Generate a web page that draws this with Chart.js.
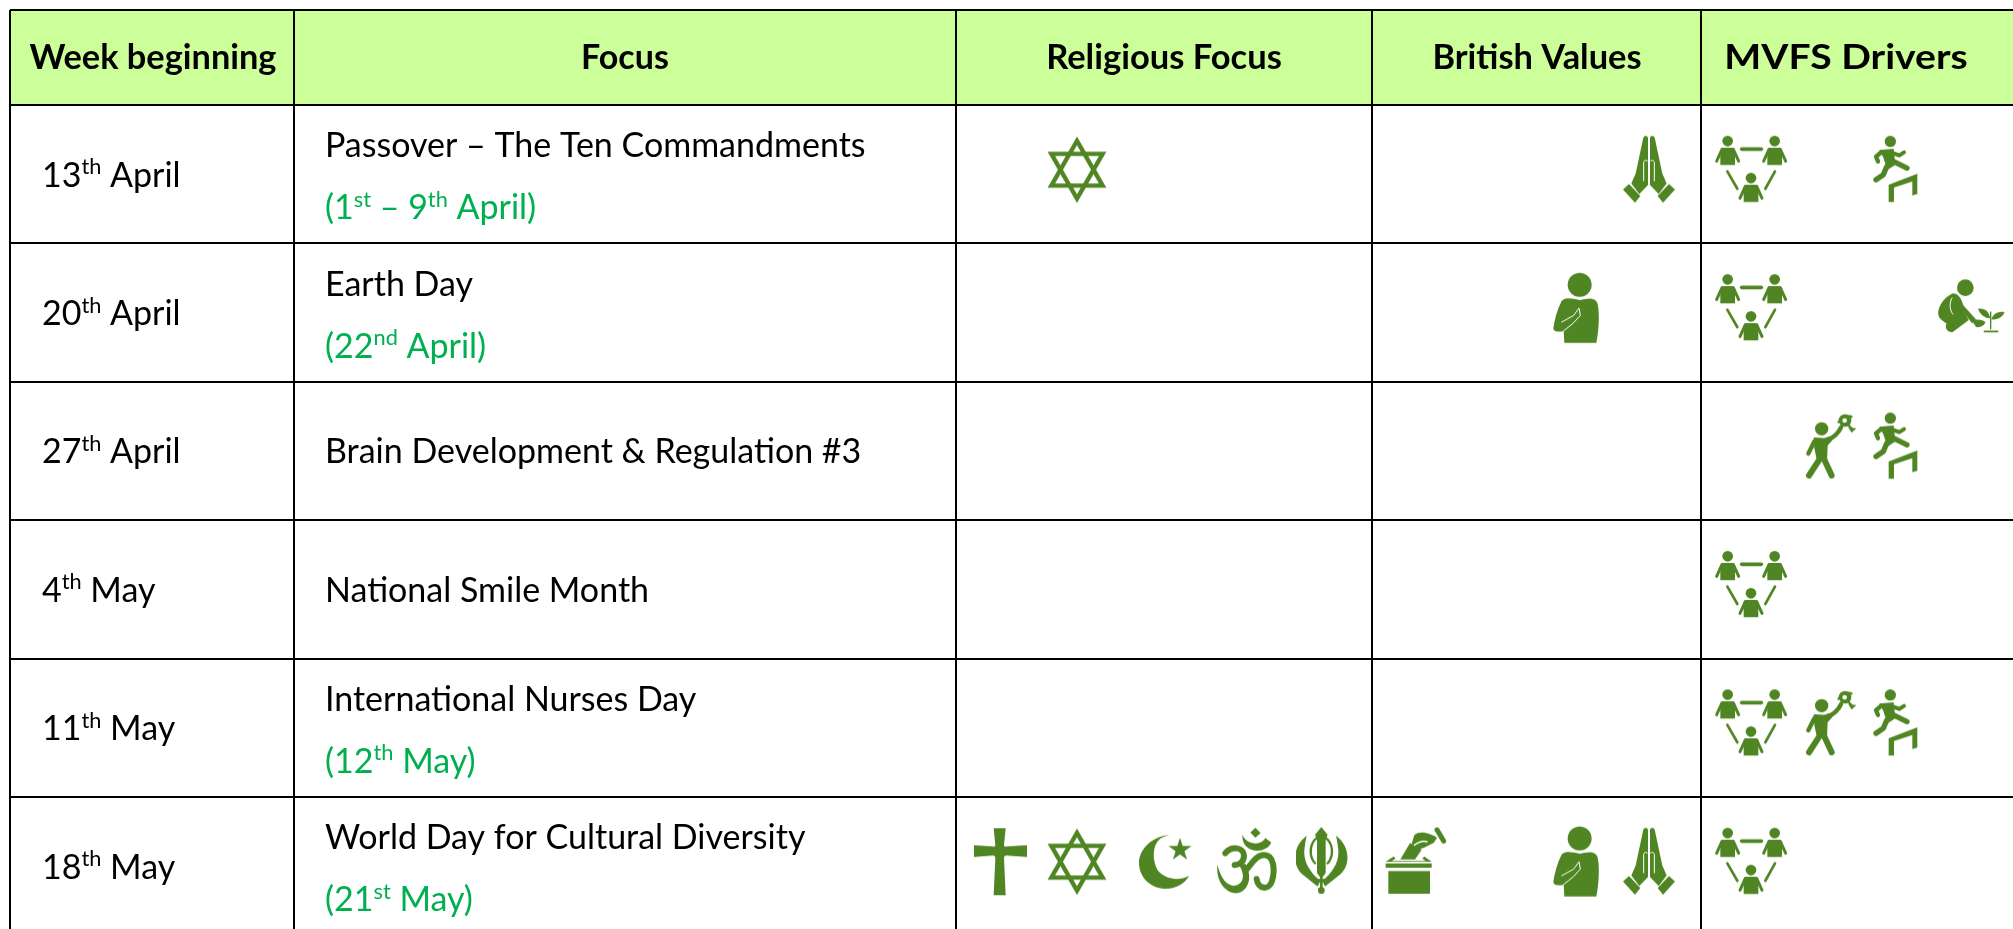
<!DOCTYPE html>
<html>
<head>
<meta charset="utf-8">
<title>Weekly focus</title>
<script src="https://cdn.jsdelivr.net/npm/chart.js@4"></script>
<style>
    html, body { margin: 0; padding: 0; background: #fff; overflow: hidden; }
    canvas { display: block; }
</style>
</head>
<body>
<canvas id="table-chart" width="2013" height="929"></canvas>
<script>
// ^x^ marks a superscript run
var headers = ["Week beginning", "Focus", "Religious Focus", "British Values", "MVFS Drivers"];
var weeks = ["13^th^ April", "20^th^ April", "27^th^ April", "4^th^ May", "11^th^ May", "18^th^ May"];
var focusNames = [
    "Passover – The Ten Commandments",
    "Earth Day",
    "Brain Development & Regulation #3",
    "National Smile Month",
    "International Nurses Day",
    "World Day for Cultural Diversity"
];
var focusDates = ["(1^st^ – 9^th^ April)", "(22^nd^ April)", "", "", "(12^th^ May)", "(21^st^ May)"];
var religiousFocus = [["star"], [], [], [], [], ["cross", "star", "crescent", "om", "khanda"]];
var britishValues = [["hands"], ["pledge"], [], [], [], ["ballot", "pledge", "hands"]];
var mvfsDrivers = [["group", "hurdle"], ["group", "plant"], ["trophy", "hurdle"], ["group"], ["group", "trophy", "hurdle"], ["group"]];

// layout, in table units (px from the table's left edge / row numbers)
var columnEdges = [0, 284, 946, 1362, 1691];
var rowEdges = [-1.1864, -0.5, 0.5, 1.5, 2.5, 3.5, 4.5];
var headerCentres = [143, 615, 1154, 1527, 1836];
var headerStretch = [1.01, 1, 1.015, 1.012, 1.15];
var weekX = 32;
var focusX = 315;
var symbolX = { cross: 991, star: 1067, crescent: 1156, om: 1238, khanda: 1313, ballot: 1407, pledge: 1567, hands: 1640, group: 1742, trophy: 1822, hurdle: 1886, plant: 1962 };
var symbolLift = -0.0325;

var GREEN = "#4f8522";
var TEXT_GREEN = "#00b050";
var HEADER_FILL = "#ccff99";
var FONT = "Lato";
var FONT_SIZE = 34;

// icons are traced at 3x, w and h are the final size
function makeIcon(w, h, draw) {
    var c = document.createElement("canvas");
    c.width = w;
    c.height = h;
    var ctx = c.getContext("2d");
    ctx.scale(1 / 3, 1 / 3);
    ctx.fillStyle = GREEN;
    ctx.strokeStyle = GREEN;
    ctx.lineCap = "round";
    ctx.lineJoin = "round";
    draw(ctx);
    return c;
}
function poly(ctx, d) { ctx.fill(new Path2D(d)); }
function line(ctx, d, lw) { ctx.lineWidth = lw; ctx.stroke(new Path2D(d)); }
function dot(ctx, x, y, r) { ctx.beginPath(); ctx.arc(x, y, r, 0, Math.PI * 2); ctx.fill(); }

function person(ctx, cx, cy) {
    dot(ctx, cx, cy, 16);
    poly(ctx, "M" + (cx - 15) + " " + (cy + 20) + "h30l7 7v45h-44v-45z");
    line(ctx, "M" + (cx - 17) + " " + (cy + 25) + "L" + (cx - 33) + " " + (cy + 60), 9);
    line(ctx, "M" + (cx + 17) + " " + (cy + 25) + "L" + (cx + 33) + " " + (cy + 60), 9);
}

var icons = {
    star: makeIcon(62, 69, function (ctx) {
        ctx.translate(3, 3);
        ctx.lineJoin = "miter";
        ctx.miterLimit = 10;
        line(ctx, "M90 14L167 148H13Z", 13);
        line(ctx, "M90 187L167 53H13Z", 13);
    }),
    cross: makeIcon(56, 69, function (ctx) {
        ctx.translate(3, 3);
        poly(ctx, "M59 0H95L90 50 Q90 56 96 55 L159 51V86L96 82Q90 82 90 90L95 201H59L64 90Q64 82 58 82L0 86V51L58 55Q64 56 64 50Z");
    }),
    crescent: makeIcon(56, 56, function (ctx) {
        ctx.translate(3, 3);
        poly(ctx, "M93 0C33 6 0 48 0 84C0 132 39 162 81 162C111 162 141 144 150 123C117 141 78 132 57 108C39 78 39 33 63 12C72 6 81 3 93 0Z");
        ctx.beginPath();
        for (var i = 0; i < 10; i++) {
            var r = i % 2 ? 14 : 36;
            var a = -Math.PI / 2 + i * Math.PI / 5;
            ctx.lineTo(123 + r * Math.cos(a), 45 + r * Math.sin(a));
        }
        ctx.closePath();
        ctx.fill();
    }),
    om: makeIcon(64, 70, function (ctx) {
        ctx.translate(-24, -21);
        poly(ctx, "M142 24L158 40L142 54L127 38Z");
        poly(ctx, "M103 45C115 75 160 80 172 55L190 68C175 104 100 104 103 45Z");
        line(ctx, "M52 100C72 76 108 84 108 108C108 130 88 136 80 136", 18);
        poly(ctx, "M28 135C23 190 58 224 90 220C122 212 135 170 112 132L92 136C112 160 110 198 74 198C50 194 36 165 28 135Z");
        line(ctx, "M112 152C128 140 140 106 168 106C198 106 202 150 192 184C182 214 150 208 146 178", 18);
    }),
    khanda: makeIcon(54, 70, function (ctx) {
        ctx.translate(-261, -21);
        poly(ctx, "M337 22L356 45L350 60V160L337 178L324 160V60L318 45Z");
        ctx.lineWidth = 7;
        ctx.beginPath();
        ctx.ellipse(337, 95, 32, 44, 0, Math.PI * 0.7, Math.PI * 0.3);
        ctx.stroke();
        poly(ctx, "M293 48C250 80 250 135 278 162C298 178 312 190 326 200L334 184C305 160 283 128 286 92C288 74 290 60 293 48Z");
        poly(ctx, "M381 48C424 80 424 135 396 162C376 178 362 190 348 200L340 184C369 160 391 128 388 92C386 74 384 60 381 48Z");
        line(ctx, "M306 178C322 184 352 184 368 178", 9);
        line(ctx, "M337 165V205", 8);
        dot(ctx, 337, 212, 10);
    }),
    pledge: makeIcon(50, 72, function (ctx) {
        ctx.translate(-33, -26);
        dot(ctx, 116, 64, 36);
        poly(ctx, "M62 112C48 140 40 170 37 195C38 206 50 206 68 203L70 238H166C174 200 176 150 170 122C165 100 140 104 116 110C95 106 76 100 62 112Z");
        ctx.strokeStyle = "#fff";
        line(ctx, "M62 176L98 156L114 134L118 156L96 180L68 202", 3);
    }),
    hands: makeIcon(56, 70, function (ctx) {
        ctx.translate(-251, -34);
        var half = function () {
            poly(ctx, "M315 42Q322 32 329 42V185L303 212L279 180L292 150Z");
            poly(ctx, "M254 198L272 182L306 218L290 238Z");
            ctx.save();
            ctx.strokeStyle = "#fff";
            line(ctx, "M316 172V116Q320 106 327 112", 3);
            ctx.restore();
        };
        half();
        ctx.translate(664, 0);
        ctx.scale(-1, 1);
        half();
    }),
    ballot: makeIcon(64, 70, function (ctx) {
        ctx.translate(-20, -17);
        ctx.fillRect(30, 150, 125, 68);
        ctx.fillRect(22, 127, 138, 13);
        poly(ctx, "M22 122L46 106L52 112L40 120H142L132 112L138 106L160 122Z");
        poly(ctx, "M66 115L95 66L130 86L110 115Z");
        poly(ctx, "M108 42C125 26 160 38 176 50L166 66C150 72 130 88 112 84L100 68Z");
        ctx.save();
        ctx.strokeStyle = "#fff";
        line(ctx, "M108 72C122 62 134 58 146 62", 4);
        ctx.restore();
        line(ctx, "M176 26L196 60", 15);
    }),
    group: makeIcon(76, 70, function (ctx) {
        ctx.translate(-105, -73);
        person(ctx, 146, 92);
        person(ctx, 287, 92);
        person(ctx, 216, 203);
        line(ctx, "M188 116H247", 11);
        line(ctx, "M145 183L175 235", 8);
        line(ctx, "M288 183L259 235", 8);
    }),
    hurdle: makeIcon(48, 70, function (ctx) {
        ctx.translate(-220, -20);
        dot(ctx, 275, 40, 17);
        poly(ctx, "M242 66L285 62L290 110L266 126L254 88Z");
        line(ctx, "M248 72L232 86L238 100", 13);
        line(ctx, "M285 76L302 82L316 73", 12);
        line(ctx, "M264 116L254 140L232 155", 16);
        line(ctx, "M284 100L325 120", 16);
        poly(ctx, "M270 170L356 137V198L341 202V160L286 178V222H270Z");
    }),
    trophy: makeIcon(54, 70, function (ctx) {
        ctx.translate(-18, -20);
        dot(ctx, 68, 72, 20);
        poly(ctx, "M44 98C60 96 75 104 90 94L100 106L86 122L84 168H54L46 130Z");
        line(ctx, "M88 104C104 98 118 84 126 68", 13);
        line(ctx, "M46 110L28 146", 13);
        line(ctx, "M64 160L30 212", 18);
        line(ctx, "M74 160L98 212", 18);
        line(ctx, "M118 52C128 38 150 30 158 36", 6);
        dot(ctx, 138, 47, 19);
        poly(ctx, "M148 68L172 70L158 84Z");
        line(ctx, "M144 56L158 72", 7);
        ctx.fillStyle = "#fff";
        dot(ctx, 137, 47, 7);
    }),
    plant: makeIcon(72, 60, function (ctx) {
        ctx.translate(-20, -26);
        dot(ctx, 108, 55, 25);
        poly(ctx, "M70 72C40 85 24 118 27 136C30 150 44 156 52 162C44 174 54 190 70 188L118 152C110 136 102 128 98 122L128 162L140 150L102 108C96 86 86 72 70 72Z");
        poly(ctx, "M128 154C140 148 162 150 168 158C164 170 148 176 140 172Z");
        ctx.save();
        ctx.strokeStyle = "#fff";
        line(ctx, "M68 86C58 104 62 122 70 134", 3);
        ctx.restore();
        line(ctx, "M184 178V128", 4);
        line(ctx, "M165 186H205", 5);
        poly(ctx, "M146 118C165 114 180 126 182 146C162 146 152 132 146 118Z");
        poly(ctx, "M226 128C206 124 190 134 186 150C206 152 220 142 226 128Z");
    })
};

function symbolPoints(rows) {
    var pts = [];
    rows.forEach(function (names, r) {
        names.forEach(function (n) {
            pts.push({ x: symbolX[n], y: r + symbolLift, symbol: n });
        });
    });
    return pts;
}
function symbolDataset(label, rows) {
    var pts = symbolPoints(rows);
    return {
        label: label,
        data: pts,
        showLine: false,
        borderWidth: 0,
        pointRadius: 0.2,
        pointHitRadius: 0,
        pointBorderWidth: 0,
        clip: false,
        pointStyle: pts.map(function (p) { return icons[p.symbol]; })
    };
}

// draw "13^th^ April" style strings
function richText(ctx, str, x, y, size, color, weight) {
    var parts = str.split("^");
    ctx.fillStyle = color;
    ctx.textAlign = "left";
    ctx.textBaseline = "alphabetic";
    parts.forEach(function (p, i) {
        if (!p) return;
        var sup = i % 2 === 1;
        ctx.font = (weight || "normal") + " " + (sup ? size * 0.64 : size) + "px " + FONT;
        ctx.fillText(p, x, sup ? y - size * 0.37 : y);
        x += ctx.measureText(p).width;
    });
}

var tablePlugin = {
    id: "tablePlugin",
    beforeDraw: function (chart) {
        var ctx = chart.ctx, a = chart.chartArea, sy = chart.scales.y;
        ctx.save();
        ctx.fillStyle = HEADER_FILL;
        ctx.fillRect(a.left, a.top, a.right - a.left, sy.getPixelForValue(rowEdges[1]) - a.top);
        ctx.restore();
    },
    afterDatasetsDraw: function (chart) {
        var ctx = chart.ctx, sx = chart.scales.x, sy = chart.scales.y;
        ctx.save();
        headers.forEach(function (h, i) {
            ctx.save();
            ctx.translate(sx.getPixelForValue(headerCentres[i]), sy.getPixelForValue(-0.5) - 36);
            ctx.scale(headerStretch[i], 1);
            ctx.fillStyle = "#000";
            ctx.font = "bold " + FONT_SIZE + "px " + FONT;
            ctx.textAlign = "center";
            ctx.textBaseline = "alphabetic";
            ctx.fillText(h, 0, 0);
            ctx.restore();
        });
        weeks.forEach(function (w, r) {
            var mid = sy.getPixelForValue(r);
            richText(ctx, w, sx.getPixelForValue(weekX), mid + 12.5, FONT_SIZE, "#000");
            var fx = sx.getPixelForValue(focusX);
            if (focusDates[r]) {
                richText(ctx, focusNames[r], fx, mid - 17, FONT_SIZE, "#000");
                richText(ctx, focusDates[r], fx, mid + 45, FONT_SIZE, TEXT_GREEN);
            } else {
                richText(ctx, focusNames[r], fx, mid + 12.5, FONT_SIZE, "#000");
            }
        });
        ctx.restore();
    }
};

function fixedTicks(values) {
    return function (scale) {
        scale.ticks = values.map(function (v) { return { value: v }; });
    };
}
var gridStyle = { color: "#000", lineWidth: 2, drawTicks: false };

new Chart("table-chart", {
    type: "scatter",
    data: {
        datasets: [
            symbolDataset("Religious Focus", religiousFocus),
            symbolDataset("British Values", britishValues),
            symbolDataset("MVFS Drivers", mvfsDrivers)
        ]
    },
    options: {
        responsive: false,
        animation: false,
        events: [],
        layout: { autoPadding: false, padding: { left: 10, top: 10, right: 0, bottom: 0 } },
        plugins: { legend: { display: false }, tooltip: { enabled: false } },
        scales: {
            x: {
                type: "linear",
                min: 0,
                max: 2003,
                afterBuildTicks: fixedTicks(columnEdges),
                grid: gridStyle,
                border: { display: false },
                ticks: { display: false }
            },
            y: {
                type: "linear",
                reverse: true,
                min: rowEdges[0],
                max: 5.4538,
                afterBuildTicks: fixedTicks(rowEdges),
                grid: gridStyle,
                border: { display: false },
                ticks: { display: false }
            }
        }
    },
    plugins: [tablePlugin]
});
</script>
</body>
</html>
